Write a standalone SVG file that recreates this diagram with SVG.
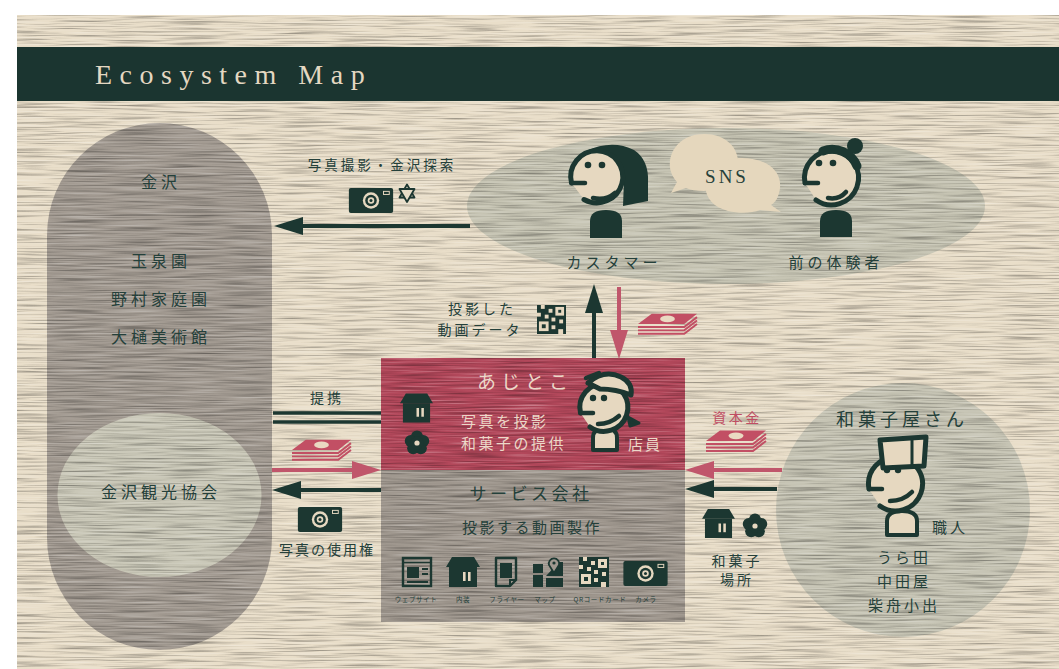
<svg xmlns="http://www.w3.org/2000/svg" xmlns:xlink="http://www.w3.org/1999/xlink" width="1059" height="669" viewBox="0 0 1059 669">
  <defs>
    <style>
      .jp{font-family:"Noto Sans CJK JP","Liberation Sans",sans-serif;fill:#24403a;text-anchor:middle}
      .st{text-anchor:start}
      .tiny{font-size:6.5px;letter-spacing:0.6px}
      .lt{fill:#ecd9c9}
      .rd{fill:#bf4e63}
      .dk{fill:#1c3731}
      .face{fill:#e6d8c0;stroke:#1c3731;stroke-width:5;stroke-linecap:round;stroke-linejoin:round}
      .ln{fill:none;stroke:#1c3731;stroke-width:4.5;stroke-linecap:round}
      .cd{stroke:#1c3731;stroke-width:4;fill:none}
      .cr{stroke:#c0566b;stroke-width:4;fill:none}
    </style>

    <!-- woven paper grain used on the big shapes: long horizontal fibres -->
    <filter id="tex" x="0" y="0" width="100%" height="100%" color-interpolation-filters="sRGB">
      <feTurbulence type="fractalNoise" baseFrequency="0.018 0.6" numOctaves="2" seed="7" result="n"/>
      <feColorMatrix in="n" type="matrix" values="0 0 0 0 0  0 0 0 0 0  0 0 0 0 0  0.85 0 0 0 -0.4" result="dk"/>
      <feColorMatrix in="n" type="matrix" values="0 0 0 0 1  0 0 0 0 1  0 0 0 0 1  -0.85 0 0 0 0.39" result="lt"/>
      <feComposite in="dk" in2="SourceAlpha" operator="in" result="dk2"/>
      <feComposite in="lt" in2="SourceAlpha" operator="in" result="lt2"/>
      <feMerge><feMergeNode in="SourceGraphic"/><feMergeNode in="dk2"/><feMergeNode in="lt2"/></feMerge>
    </filter>

    <marker id="headD" markerUnits="userSpaceOnUse" markerWidth="30" markerHeight="20" refX="8" refY="9" orient="auto">
      <path d="M0,0 L29,9 L0,18 Z" fill="#1c3731"/>
    </marker>
    <marker id="headR" markerUnits="userSpaceOnUse" markerWidth="30" markerHeight="20" refX="8" refY="9" orient="auto">
      <path d="M0,0 L29,9 L0,18 Z" fill="#c0566b"/>
    </marker>

    <!-- banknote stack -->
    <symbol id="money" viewBox="0 0 60 22" overflow="visible">
      <polygon points="0,11 14,0.5 60,0.5 47,11" fill="#c24f64"/>
      <ellipse cx="30" cy="5.8" rx="7.5" ry="3.4" fill="#ead9c2"/>
      <polyline points="0,14 47,14 60,4" fill="none" stroke="#c24f64" stroke-width="2"/>
      <polyline points="0,17.5 47,17.5 60,7.5" fill="none" stroke="#c24f64" stroke-width="2"/>
      <polyline points="0,21 47,21 60,11" fill="none" stroke="#c24f64" stroke-width="2"/>
    </symbol>

    <!-- shop -->
    <symbol id="house" viewBox="0 0 34 30">
      <polygon points="6,0 28,0 34,10 0,10" fill="#1c3731"/>
      <rect x="3" y="10" width="28" height="20" fill="#1c3731"/>
      <rect x="17" y="15" width="2.6" height="9" fill="#e6d8c0"/>
      <rect x="22" y="15" width="2.6" height="9" fill="#e6d8c0"/>
    </symbol>

    <!-- plum-blossom sweet -->
    <symbol id="flower" viewBox="-14 -14 28 28">
      <g fill="#1c3731">
        <circle cx="0" cy="-7" r="6.5"/>
        <circle cx="6.7" cy="-2.2" r="6.5"/>
        <circle cx="4.1" cy="5.7" r="6.5"/>
        <circle cx="-4.1" cy="5.7" r="6.5"/>
        <circle cx="-6.7" cy="-2.2" r="6.5"/>
        <circle cx="0" cy="0" r="7"/>
      </g>
      <circle cx="0" cy="0" r="2.8" fill="#e6d8c0"/>
    </symbol>

    <!-- camera -->
    <symbol id="camera" viewBox="0 0 46 26">
      <rect x="0" y="0" width="46" height="26" rx="2" fill="#1c3731"/>
      <circle cx="23" cy="13" r="8.5" fill="#e6d8c0"/>
      <circle cx="23" cy="13" r="6" fill="#1c3731"/>
      <circle cx="23" cy="13" r="3.4" fill="#e6d8c0"/>
      <circle cx="23" cy="13" r="1.6" fill="#1c3731"/>
      <rect x="36" y="3.5" width="6" height="3.2" fill="none" stroke="#e6d8c0" stroke-width="1"/>
    </symbol>

    <!-- QR code -->
    <symbol id="qr" viewBox="0 0 30 30">
      <rect x="0" y="0" width="30" height="30" fill="#1c3731"/>
      <g fill="#e6d8c0">
        <rect x="4" y="0" width="4" height="4"/>
        <rect x="12" y="4" width="4" height="4"/>
        <rect x="19" y="2" width="9" height="9"/>
        <rect x="0" y="8" width="4" height="4"/>
        <rect x="8" y="10" width="4" height="4"/>
        <rect x="15" y="13" width="4" height="4"/>
        <rect x="23" y="15" width="4" height="4"/>
        <rect x="2" y="17" width="10" height="10"/>
        <rect x="15" y="21" width="4" height="4"/>
        <rect x="22" y="25" width="5" height="5"/>
      </g>
      <rect x="22" y="5" width="3" height="3" fill="#1c3731"/>
      <rect x="5" y="20" width="4" height="4" fill="#1c3731"/>
    </symbol>
  </defs>

  <!-- page -->
  <rect x="0" y="0" width="1059" height="669" fill="#ffffff"/>
  <rect x="17" y="15" width="1042" height="654" fill="#e9dec9" filter="url(#tex)"/>

  <!-- title bar -->
  <g id="header">
    <rect x="17" y="47" width="1042" height="54" fill="#1b3530"/>
    <text x="95" y="84" font-family="Liberation Serif, serif" font-size="28" letter-spacing="7.5" fill="#e4d8c2">Ecosystem Map</text>
  </g>

  <!-- Kanazawa sights -->
  <g id="kanazawa">
    <rect x="47" y="123" width="225" height="527" rx="112.5" fill="#a39b92" filter="url(#tex)"/>
    <g class="jp" style="font-size:16px;letter-spacing:4px">
      <text x="161" y="188">金沢</text>
      <text x="161" y="267">玉泉園</text>
      <text x="161" y="305">野村家庭園</text>
      <text x="161" y="343">大樋美術館</text>
    </g>
  </g>

  <g id="kanko">
    <ellipse cx="159.5" cy="495" rx="102" ry="82" fill="#c9c7b7" filter="url(#tex)"/>
    <text class="jp" x="161" y="498" style="font-size:16px;letter-spacing:4px">金沢観光協会</text>
  </g>

  <!-- customers and previous visitors -->
  <g id="customers">
    <ellipse cx="726" cy="206" rx="259" ry="78" fill="#c6c4b3" filter="url(#tex)"/>
    <!-- speech bubbles -->
    <path d="M704,134 C725,134 739,147 738,164 C737,180 723,191 704,191 C696,191 690,190 686,188 L671,193 L677,182 C671,175 669,168 670,161 C672,145 686,134 704,134 Z" fill="#e5d7bd"/>
    <path d="M742,158 C765,158 782,170 780,188 C779,196 776,202 771,205 L781,212 L760,210 C752,213 740,214 728,211 C712,207 704,196 706,184 C708,168 724,158 742,158 Z" fill="#e5d7bd"/>
    <text x="727" y="183" font-family="Liberation Serif, serif" font-size="19" letter-spacing="3" fill="#26413a" text-anchor="middle">SNS</text>

    <!-- customer (bob hair) -->
    <path d="M590,238 V221 Q590,210 606,210 Q622,210 622,221 V238 Z" class="dk"/>
    <path d="M586,151 Q612,139 634,150 Q649,160 648,182 L648,201 L623,206 L624,180 Q620,160 600,152 Z" class="dk"/>
    <path d="M571.5,183 A26,26 0 1 1 584,199.5" class="face"/>
    <path d="M571.5,183 H585" class="ln"/>
    <circle cx="588" cy="165" r="3.3" class="dk"/>
    <circle cx="602" cy="165" r="3.3" class="dk"/>
    <path d="M593,198 Q606,201 615,193" class="ln"/>
    <text class="jp" x="614" y="268" style="font-size:15px;letter-spacing:4px">カスタマー</text>

    <!-- previous visitor (bun) -->
    <path d="M820,237 V221 Q820,210 836,210 Q852,210 852,221 V237 Z" class="dk"/>
    <circle cx="855" cy="146" r="8" class="dk"/>
    <path d="M805,183 A27,27 0 1 1 816,200" class="face"/>
    <path d="M823,151 A27,27 0 0 1 857,166" fill="none" stroke="#1c3731" stroke-width="9" stroke-linecap="round"/>
    <path d="M805,183 H818" class="ln"/>
    <circle cx="819" cy="163" r="3.3" class="dk"/>
    <circle cx="833" cy="163" r="3.3" class="dk"/>
    <path d="M828,198 Q839,200 846,192" class="ln"/>
    <text class="jp" x="836" y="268" style="font-size:15px;letter-spacing:4px">前の体験者</text>
  </g>

  <!-- Ajitoko shop -->
  <g id="ajitoko">
    <rect x="381" y="358" width="304" height="112" fill="#b3485b" filter="url(#tex)"/>
    <text class="jp lt" x="525" y="389" style="font-size:19px;letter-spacing:5px">あじとこ</text>
    <text class="jp lt st" x="461" y="427" style="font-size:15px;letter-spacing:2.5px">写真を投影</text>
    <text class="jp lt st" x="461" y="449" style="font-size:15px;letter-spacing:2.5px">和菓子の提供</text>
    <use href="#house" x="400" y="393" width="33" height="30"/>
    <use href="#flower" x="404" y="430" width="26" height="26"/>
    <!-- shop staff -->
    <path d="M593,450 V438 Q593,428 605,428 Q617,428 617,438 V450 Z" fill="#e6d8c0" stroke="#1c3731" stroke-width="4" stroke-linejoin="round"/>
    <path d="M580.5,413 A24,24 0 1 1 590,427" class="face"/>
    <path d="M588,383 Q604,369 621,377 Q633,383 631,395 Q616,389 600,389 Z" class="face" stroke-width="4.5"/>
    <path d="M586,378 L599,373" class="ln"/>
    <path d="M628,417 L639,423 L630,426 Z" class="dk" stroke="#1c3731" stroke-width="3" stroke-linejoin="round"/>
    <path d="M580.5,413 H593" class="ln"/>
    <circle cx="593" cy="398" r="3.2" class="dk"/>
    <circle cx="604" cy="398" r="3.2" class="dk"/>
    <path d="M598,424 Q610,424 619,416" class="ln"/>
    <text class="jp lt" x="645" y="450" style="font-size:15px;letter-spacing:2px">店員</text>
  </g>

  <!-- production company -->
  <g id="service">
    <rect x="381" y="470" width="304" height="152" fill="#a0988f" filter="url(#tex)"/>
    <text class="jp" x="531" y="500" style="font-size:17px;letter-spacing:3.5px">サービス会社</text>
    <text class="jp" x="532" y="533" style="font-size:15px;letter-spacing:2.5px">投影する動画製作</text>
    <!-- website -->
    <rect x="403" y="558" width="28" height="28" fill="none" stroke="#1c3731" stroke-width="2.4"/>
    <line x1="403" y1="562.5" x2="431" y2="562.5" stroke="#1c3731" stroke-width="1.6"/>
    <rect x="407" y="567" width="12" height="11" class="dk"/>
    <path d="M422,569 H428 M422,574 H428 M407,582 H428" stroke="#1c3731" stroke-width="2"/>
    <!-- interior -->
    <use href="#house" x="446" y="557" width="34" height="30"/>
    <!-- flyer -->
    <path d="M496,558 H516 V580 L510,586 H496 Z" fill="none" stroke="#1c3731" stroke-width="2.4" stroke-linejoin="round"/>
    <path d="M510,586 V580 H516" fill="none" stroke="#1c3731" stroke-width="2"/>
    <rect x="500" y="563" width="12" height="15" class="dk"/>
    <!-- map -->
    <rect x="533" y="564" width="10" height="9" class="dk"/>
    <rect x="533" y="575" width="10" height="12" class="dk"/>
    <rect x="546" y="578" width="17" height="9" class="dk"/>
    <path d="M546,562 H549 M559,562 H563 V576 H546 Z" class="dk"/>
    <path d="M554,573 L549,565 A5.2,5.2 0 1 1 559,565 Z" fill="#a0988f" stroke="#1c3731" stroke-width="1.8"/>
    <circle cx="554" cy="563" r="1.6" class="dk"/>
    <!-- QR -->
    <use href="#qr" x="579" y="557" width="30" height="30"/>
    <!-- camera -->
    <use href="#camera" x="623" y="561" width="45" height="25"/>
    <text class="jp tiny" x="416" y="602">ウェブサイト</text>
    <text class="jp tiny" x="463" y="602">内装</text>
    <text class="jp tiny" x="507" y="602">フライヤー</text>
    <text class="jp tiny" x="545" y="602">マップ</text>
    <text class="jp tiny" x="600" y="602">QRコードカード</text>
    <text class="jp tiny" x="646" y="602">カメラ</text>
  </g>

  <!-- wagashi makers -->
  <g id="wagashiya">
    <circle cx="903" cy="510" r="127" fill="#c6c4b4" filter="url(#tex)"/>
    <text class="jp" x="902" y="426" style="font-size:18px;letter-spacing:4px">和菓子屋さん</text>
    <!-- craftsman -->
    <path d="M887,535 V521 Q887,511 902,511 Q917,511 917,521 V535 Z" fill="#e6d8c0" stroke="#1c3731" stroke-width="4" stroke-linejoin="round"/>
    <path d="M869,489 A27,27 0 1 1 880,506" class="face"/>
    <path d="M880,440 L926,437 L924,466 L883,468 Z" class="face" stroke-width="4.5"/>
    <path d="M912,439 V466" stroke="#1c3731" stroke-width="3"/>
    <path d="M869,489 H882" class="ln"/>
    <circle cx="887" cy="470" r="3.2" class="dk"/>
    <circle cx="898" cy="470" r="3.2" class="dk"/>
    <path d="M890,501 Q903,501 912,492" class="ln"/>
    <text class="jp" x="950" y="533" style="font-size:15px;letter-spacing:3px">職人</text>
    <g class="jp" style="font-size:15px;letter-spacing:3px">
      <text x="904" y="563">うら田</text>
      <text x="904" y="587">中田屋</text>
      <text x="904" y="611">柴舟小出</text>
    </g>
  </g>

  <!-- flows between the parties -->
  <g id="connectors">
    <!-- customers -> Kanazawa -->
    <line x1="470" y1="226" x2="295" y2="226" class="cd" marker-end="url(#headD)"/>
    <text class="jp" x="382" y="170" style="font-size:13.5px;letter-spacing:3px">写真撮影・金沢探索</text>
    <use href="#camera" x="348" y="188" width="46" height="25"/>
    <g fill="#e7dcc7" stroke="#1c3731" stroke-width="1.8" stroke-linejoin="round">
      <polygon points="407,184.5 414.5,197.5 399.5,197.5"/>
      <polygon points="407,202 414.5,189 399.5,189"/>
    </g>

    <!-- shop <-> customers -->
    <line x1="594" y1="358" x2="594" y2="305" class="cd" marker-end="url(#headD)"/>
    <line x1="619" y1="287" x2="619" y2="338" class="cr" marker-end="url(#headR)"/>
    <text class="jp" x="482" y="314" style="font-size:14px;letter-spacing:3px">投影した</text>
    <text class="jp" x="480" y="335" style="font-size:14px;letter-spacing:3px">動画データ</text>
    <use href="#qr" x="537" y="305" width="29" height="29"/>
    <use href="#money" x="638" y="313" width="59" height="22"/>

    <!-- partnership -->
    <line x1="273" y1="413" x2="381" y2="413" stroke="#1c3731" stroke-width="3.5"/>
    <line x1="273" y1="422" x2="381" y2="422" stroke="#1c3731" stroke-width="3.5"/>
    <text class="jp" x="327" y="403" style="font-size:14px;letter-spacing:3px">提携</text>

    <!-- tourism association <-> service company -->
    <use href="#money" x="292" y="439" width="59" height="22"/>
    <line x1="272" y1="470" x2="360" y2="470" class="cr" marker-end="url(#headR)"/>
    <line x1="381" y1="490" x2="293" y2="490" class="cd" marker-end="url(#headD)"/>
    <use href="#camera" x="297" y="507" width="46" height="25"/>
    <text class="jp" x="327" y="555" style="font-size:14px;letter-spacing:2px">写真の使用権</text>

    <!-- wagashi makers -> shop -->
    <text class="jp rd" x="737" y="423" style="font-size:14px;letter-spacing:2.5px">資本金</text>
    <use href="#money" x="706" y="430" width="60" height="22"/>
    <line x1="782" y1="470" x2="706" y2="470" class="cr" marker-end="url(#headR)"/>
    <line x1="777" y1="489" x2="706" y2="489" class="cd" marker-end="url(#headD)"/>
    <use href="#house" x="702" y="509" width="33" height="29"/>
    <use href="#flower" x="742" y="513" width="26" height="26"/>
    <text class="jp" x="737" y="566" style="font-size:14px;letter-spacing:3px">和菓子</text>
    <text class="jp" x="737" y="585" style="font-size:14px;letter-spacing:3px">場所</text>
  </g>
</svg>
